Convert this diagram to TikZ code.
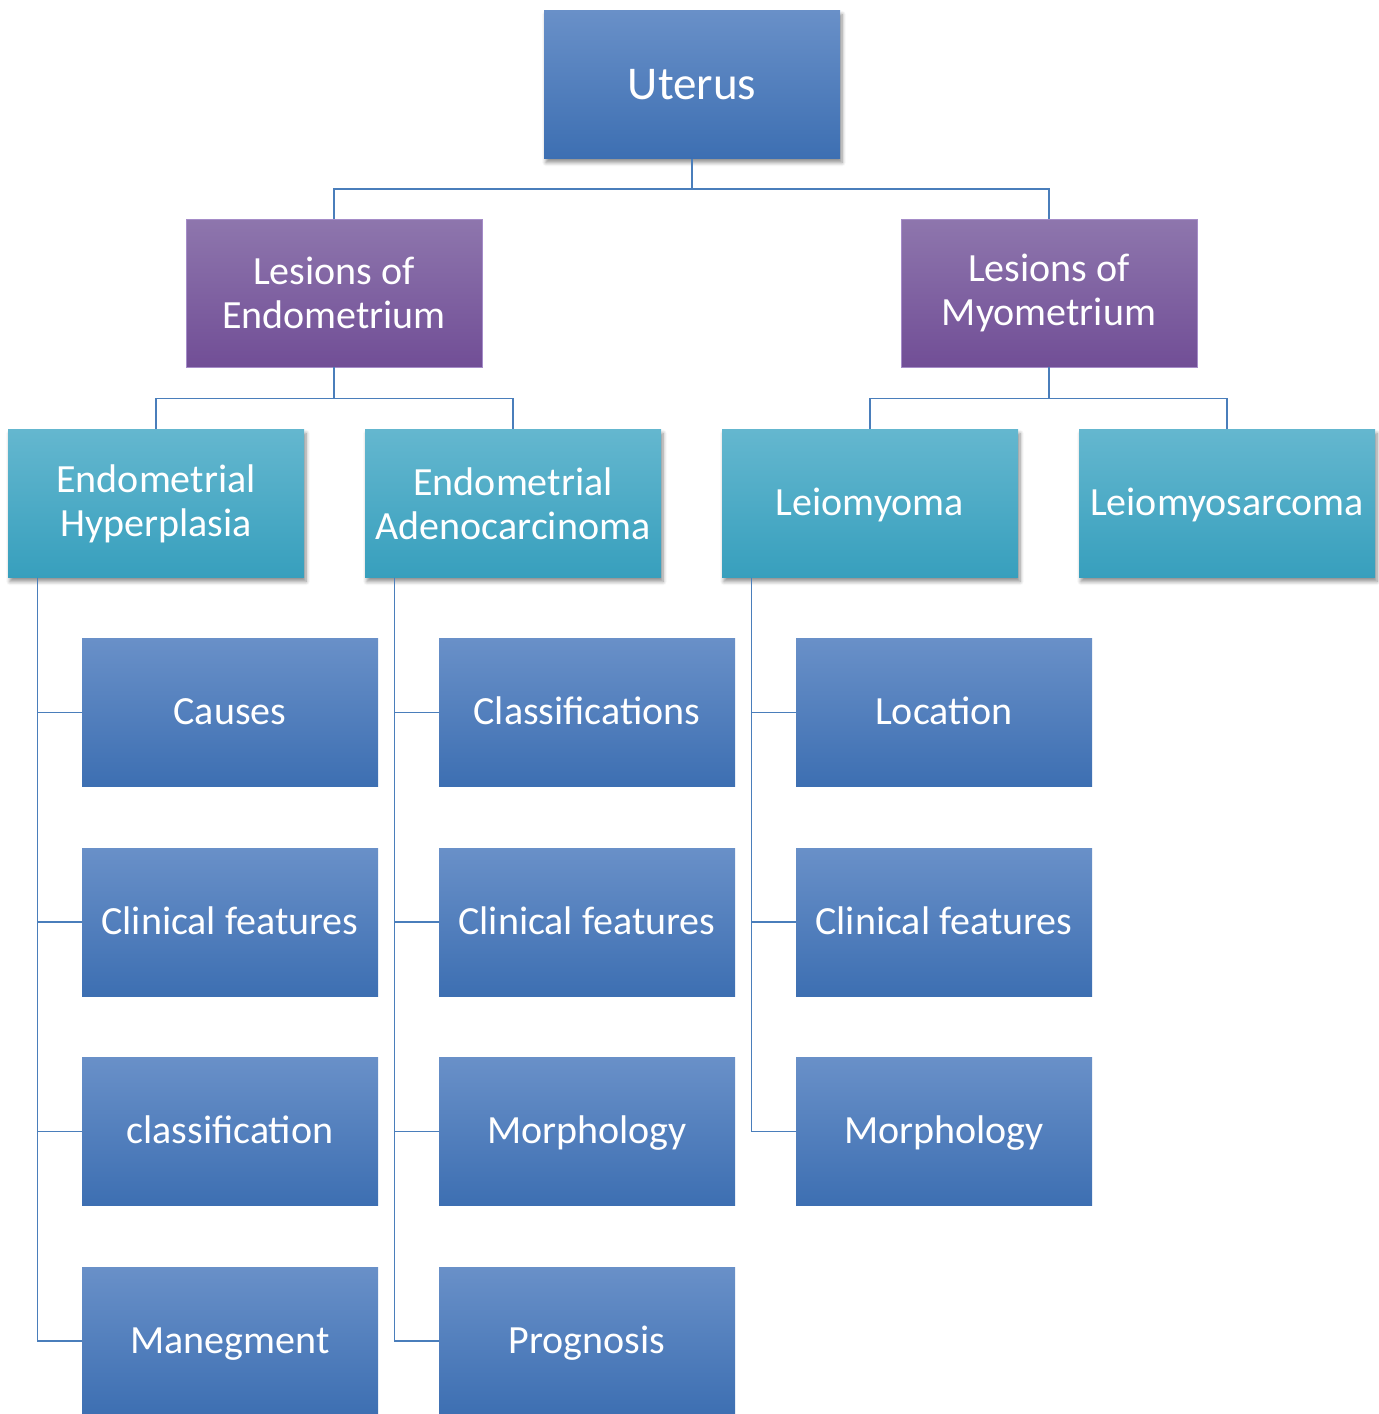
\documentclass[tikz,border=0pt]{standalone}
\usepackage{fontspec}
\setmainfont{Carlito}
\usepackage{tikz}
\usetikzlibrary{shadows, shadows.blur, calc}
\definecolor{BlueTop}{HTML}{6990C8}
\definecolor{BlueBot}{HTML}{3D6FB2}
\definecolor{PurpTop}{HTML}{8E76AD}
\definecolor{PurpBot}{HTML}{714E96}
\definecolor{PurpLine}{HTML}{A58CC8}
\definecolor{TealTop}{HTML}{64B7CF}
\definecolor{TealMid}{HTML}{49B0CD}
\definecolor{TealBot}{HTML}{379FBD}
\definecolor{LinkBlue}{HTML}{4A7EBB}
\def\boxw{148pt}
\def\boxh{74pt}
\begin{document}
\begin{tikzpicture}[x=0.5pt, y=-0.5pt,
	box/.style={rectangle, inner sep=0pt, minimum width=\boxw, minimum height=\boxh, align=center, text=white, font=\fontsize{20}{22}\selectfont},
	oneline/.style={text height=13.2pt, text depth=0.8pt},
	leaf/.style={box, oneline, top color=BlueTop, bottom color=BlueBot},
	root/.style={leaf, font=\fontsize{23.5}{26}\selectfont, text height=15.5pt, text depth=0.9pt, blur shadow={shadow xshift=1pt, shadow yshift=-2pt, shadow blur steps=6, shadow opacity=45}},
	lesion/.style={box, top color=PurpTop, bottom color=PurpBot, draw=PurpLine, line width=0.4pt},
	tumour/.style={box, top color=TealTop, middle color=TealMid, bottom color=TealBot, blur shadow={shadow xshift=1pt, shadow yshift=-2pt, shadow blur steps=6, shadow opacity=45}},
	link/.style={draw=LinkBlue, line width=0.75pt}]

	\useasboundingbox (0,0) rectangle (1378,1414);

	% top levels
	\node[root] (U) at (692,84.5) {Uterus};
	\node[lesion] (LE) at (334,293) {Lesions of\\Endometrium};
	\node[lesion] (LM) at (1049,293) {Lesions of\\Myometrium};

	\node[tumour] (EH) at (156,503.5) {Endometrial\\Hyperplasia};
	\node[tumour] (EA) at (513,503.5) {Endometrial\\Adenocarcinoma};
	\node[tumour, oneline] (LO) at (870,503.5) {Leiomyoma};
	\node[tumour, oneline] (LS) at (1227,503.5) {Leiomyosarcoma};

	\draw[link] (U.south) -- ++(0,30) -| (LE.north);
	\draw[link] (U.south) -- ++(0,30) -| (LM.north);
	\draw[link] (LE.south) -- ++(0,31) -| (EH.north);
	\draw[link] (LE.south) -- ++(0,31) -| (EA.north);
	\draw[link] (LM.south) -- ++(0,31) -| (LO.north);
	\draw[link] (LM.south) -- ++(0,31) -| (LS.north);

	% leaves
	\foreach \name/\lab [count=\i] in {HC/Causes, HF/Clinical features, HK/classification, HM/Manegment}
	{
		\node[leaf] (\name) at (230,{712.5+209.5*(\i-1)}) {\lab};
		\draw[link] ([xshift=15pt]EH.south west) |- (\name.west);
	}
	\foreach \name/\lab [count=\i] in {AC/Classifications, AF/Clinical features, AM/Morphology, AP/Prognosis}
	{
		\node[leaf] (\name) at (587,{712.5+209.5*(\i-1)}) {\lab};
		\draw[link] ([xshift=15pt]EA.south west) |- (\name.west);
	}
	\foreach \name/\lab [count=\i] in {OL/Location, OF/Clinical features, OM/Morphology}
	{
		\node[leaf] (\name) at (944,{712.5+209.5*(\i-1)}) {\lab};
		\draw[link] ([xshift=15pt]LO.south west) |- (\name.west);
	}

\end{tikzpicture}
\end{document}
